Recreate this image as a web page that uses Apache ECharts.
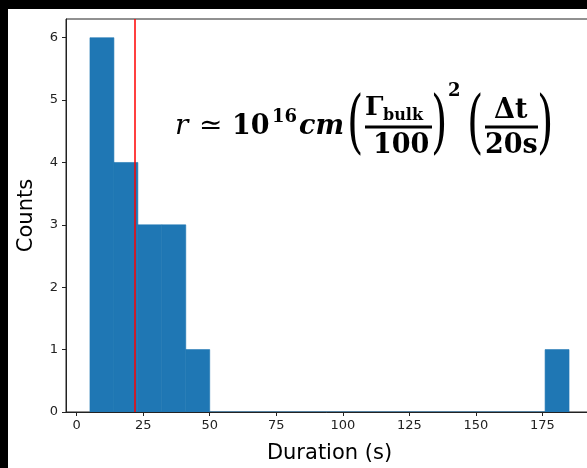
<!DOCTYPE html>
<html>
<head>
<meta charset="utf-8">
<script src="https://cdn.jsdelivr.net/npm/echarts@6/dist/echarts.min.js"></script>
<style>
  html, body { margin: 0; padding: 0; background: #000; }
  #chart { width: 587px; height: 468px; }
</style>
</head>
<body>
<div id="chart"></div>
<script>
// Histogram of burst durations: bin edges (s) and counts per bin
const binEdges = [5, 14, 23, 32, 41, 50, 59, 68, 77, 86, 95, 104, 113, 122, 131, 140, 149, 158, 167, 176, 185];
const counts   = [6, 4, 3, 3, 1, 0, 0, 0, 0, 0, 0, 0, 0, 0, 0, 0, 0, 0, 0, 1];
// Marker for the median duration
const medianDuration = 22;
// Axis ticks
const xTicks = [0, 25, 50, 75, 100, 125, 150, 175];
const yTicks = [0, 1, 2, 3, 4, 5, 6];

const barData = counts.map((c, i) => [binEdges[i], binEdges[i + 1], c]);

const chart = echarts.init(document.getElementById('chart'), null, { renderer: 'canvas' });

const serif = '"DejaVu Serif", serif';
function txt(str, x, baseline, size, opts) {
  opts = opts || {};
  return {
    type: 'text',
    x: x,
    y: baseline - size * 0.33,
    z: 100,
    style: {
      text: str,
      fontFamily: serif,
      fontSize: size,
      fontWeight: opts.weight || 'bold',
      fontStyle: opts.style || 'normal',
      fill: '#000',
      align: 'left',
      verticalAlign: 'middle'
    }
  };
}
// tall parenthesis centred vertically on cy
function paren(str, x, cy) {
  return {
    type: 'text',
    x: x,
    y: cy,
    z: 100,
    scaleY: 1.65,
    originX: 0,
    originY: 0,
    style: {
      text: str,
      fontFamily: serif,
      fontSize: 42,
      fontWeight: 'normal',
      fill: '#000',
      align: 'left',
      verticalAlign: 'middle'
    }
  };
}

chart.setOption({
  backgroundColor: '#fff',
  animation: false,
  textStyle: { fontFamily: '"DejaVu Sans", sans-serif' },
  grid: {
    left: 66, top: 19, width: 527, height: 393,
    containLabel: false,
    outerBoundsMode: 'none',
    show: true, borderColor: '#222', borderWidth: 1, backgroundColor: 'transparent'
  },
  xAxis: {
    type: 'value',
    min: -4, max: 194,
    name: 'Duration (s)',
    nameLocation: 'middle',
    nameGap: 31,
    nameTextStyle: { fontSize: 21, color: '#000' },
    axisLine: { show: true, onZero: false, lineStyle: { color: '#222', width: 1 } },
    axisTick: { show: true, length: 4, lineStyle: { color: '#222' }, customValues: xTicks },
    axisLabel: { fontSize: 13, color: '#222', margin: 7, customValues: xTicks },
    splitLine: { show: false }
  },
  yAxis: {
    type: 'value',
    min: 0, max: 6.3, interval: 1,
    name: 'Counts',
    nameLocation: 'middle',
    nameGap: 29,
    nameTextStyle: { fontSize: 21, color: '#000' },
    axisLine: { show: true, onZero: false, lineStyle: { color: '#222', width: 1 } },
    axisTick: { show: true, length: 4, lineStyle: { color: '#222' }, customValues: yTicks },
    axisLabel: { fontSize: 13, color: '#222', margin: 8, customValues: yTicks },
    splitLine: { show: false }
  },
  series: [
    {
      type: 'custom',
      data: barData,
      clip: true,
      renderItem: function (params, api) {
        const x0 = api.coord([api.value(0), 0]);
        const x1 = api.coord([api.value(1), api.value(2)]);
        return {
          type: 'rect',
          shape: { x: x0[0], y: x1[1], width: x1[0] - x0[0], height: x0[1] - x1[1] },
          style: { fill: '#1f77b4', stroke: '#1f77b4', lineWidth: 0.6 }
        };
      },
      encode: { x: [0, 1], y: 2 },
      markLine: {
        silent: true,
        symbol: 'none',
        label: { show: false },
        lineStyle: { color: '#ff0000', width: 1.5, type: 'solid' },
        data: [{ xAxis: medianDuration }]
      }
    }
  ],
  graphic: [
    // dark frame strips around the figure
    { type: 'rect', shape: { x: 0, y: 0, width: 587, height: 9 }, style: { fill: '#000' }, z: 200 },
    { type: 'rect', shape: { x: 0, y: 0, width: 8, height: 468 }, style: { fill: '#000' }, z: 200 },
    // emission radius formula
    txt('r', 175, 136, 28, { weight: 'normal', style: 'italic' }),
    txt('≃', 199, 136, 28, { weight: 'normal' }),
    txt('10', 232, 136, 27),
    txt('16', 272, 123, 18),
    txt('cm', 299, 136, 27, { style: 'italic' }),
    paren('(', 347, 127),
    txt('Γ', 365, 117, 26),
    txt('bulk', 383, 121, 16),
    { type: 'rect', shape: { x: 365, y: 125.5, width: 67, height: 3 }, style: { fill: '#000' }, z: 100 },
    txt('100', 373, 155, 27),
    paren(')', 431, 127),
    txt('2', 448, 97, 18),
    paren('(', 467, 127),
    txt('Δt', 494, 120, 27),
    { type: 'rect', shape: { x: 485, y: 125.5, width: 53, height: 3 }, style: { fill: '#000' }, z: 100 },
    txt('20s', 485, 155, 27),
    paren(')', 537, 127)
  ]
});
</script>
</body>
</html>
